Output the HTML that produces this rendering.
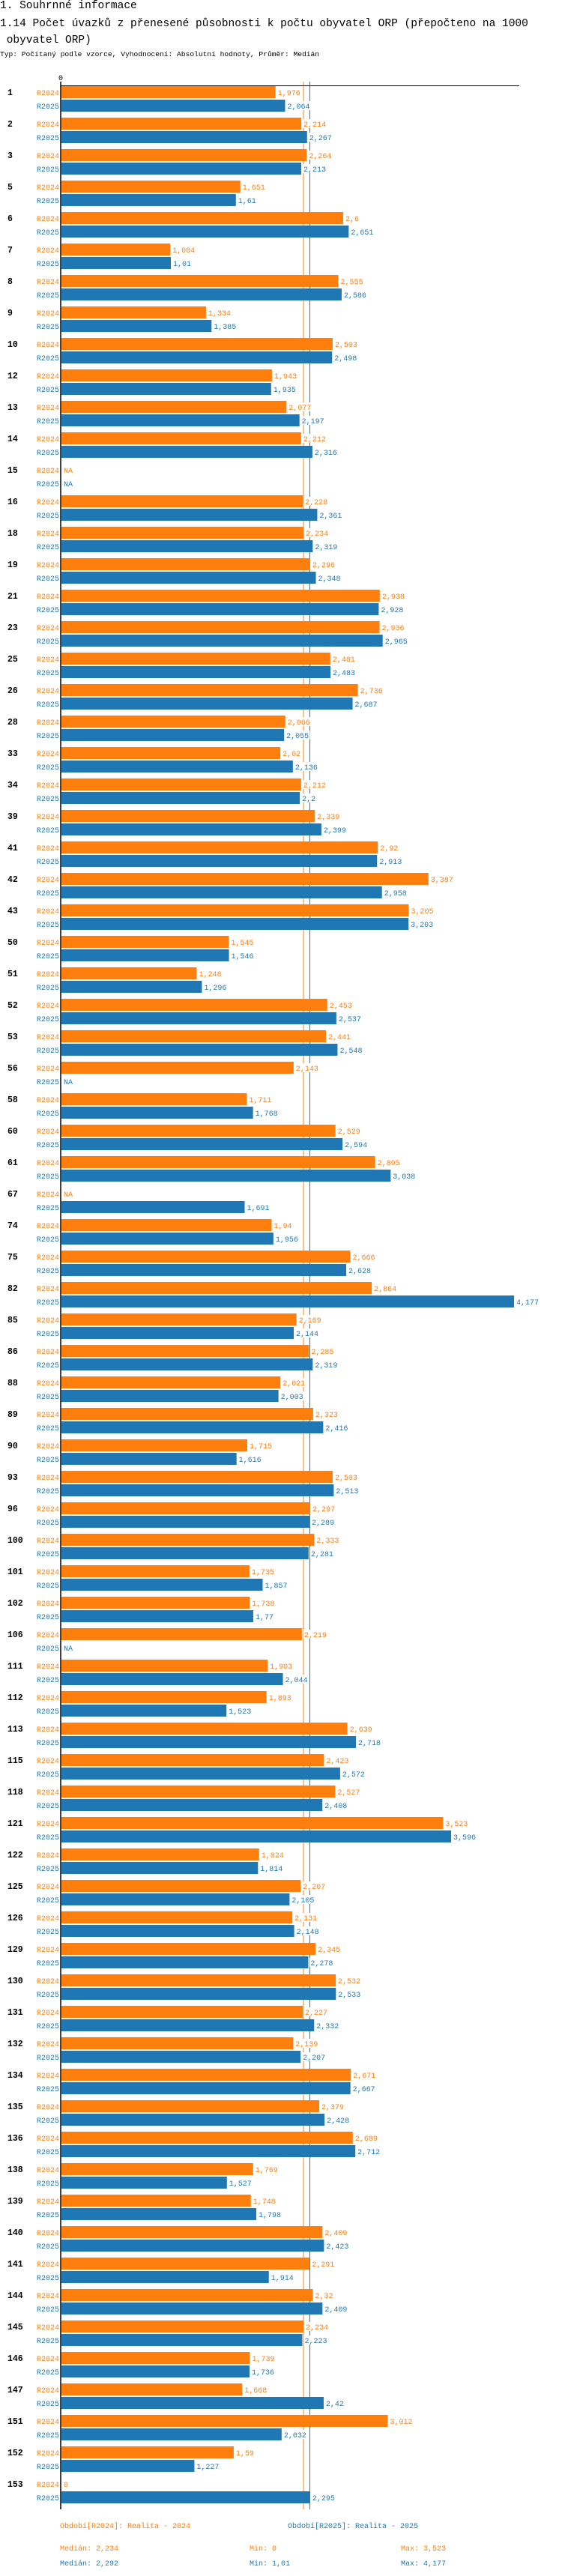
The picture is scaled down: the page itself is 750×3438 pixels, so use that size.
<!DOCTYPE html>
<html><head><meta charset="utf-8">
<style>
html,body{margin:0;padding:0;background:#fff;}
body{width:750px;height:3438px;overflow:hidden;position:relative;font-family:"Liberation Mono",monospace;}
.t{position:absolute;left:0;white-space:pre;color:#000;}
</style></head>
<body>
<div class="t" style="top:0px;font-size:14.5px;">1. Souhrnné informace</div>
<div class="t" style="top:21px;font-size:14.5px;line-height:22px;">1.14 Počet úvazků z přenesené působnosti k počtu obyvatel ORP (přepočteno na 1000
 obyvatel ORP)</div>
<div class="t" style="top:67px;font-size:9.6px;">Typ: Počítaný podle vzorce, Vyhodnocení: Absolutní hodnoty, Průměr: Medián</div>
<svg id="chart" width="750" height="3438" style="position:absolute;left:0;top:0" xmlns="http://www.w3.org/2000/svg" font-family="Liberation Mono, monospace"></svg>
<script>
const categories=["1","2","3","5","6","7","8","9","10","12","13","14","15","16","18","19","21","23","25","26","28","33","34","39","41","42","43","50","51","52","53","56","58","60","61","67","74","75","82","85","86","88","89","90","93","96","100","101","102","106","111","112","113","115","118","121","122","125","126","129","130","131","132","134","135","136","138","139","140","141","144","145","146","147","151","152","153"];
const values2024=[1.976,2.214,2.264,1.651,2.6,1.004,2.555,1.334,2.503,1.943,2.077,2.212,null,2.228,2.234,2.296,2.938,2.936,2.481,2.736,2.066,2.02,2.212,2.339,2.92,3.387,3.205,1.545,1.248,2.453,2.441,2.143,1.711,2.529,2.895,null,1.94,2.666,2.864,2.169,2.285,2.021,2.323,1.715,2.503,2.297,2.333,1.735,1.738,2.219,1.903,1.893,2.639,2.423,2.527,3.523,1.824,2.207,2.131,2.345,2.532,2.227,2.139,2.671,2.379,2.689,1.769,1.748,2.409,2.291,2.32,2.234,1.739,1.668,3.012,1.59,0];
const values2025=[2.064,2.267,2.213,1.61,2.651,1.01,2.586,1.385,2.498,1.935,2.197,2.316,null,2.361,2.319,2.348,2.928,2.965,2.483,2.687,2.055,2.136,2.2,2.399,2.913,2.958,3.203,1.546,1.296,2.537,2.548,null,1.768,2.594,3.038,1.691,1.956,2.628,4.177,2.144,2.319,2.003,2.416,1.616,2.513,2.289,2.281,1.857,1.77,null,2.044,1.523,2.718,2.572,2.408,3.596,1.814,2.105,2.148,2.278,2.533,2.332,2.207,2.667,2.428,2.712,1.527,1.798,2.423,1.914,2.409,2.223,1.736,2.42,2.032,1.227,2.295];
const seriesNames=["R2024","R2025"];
const medians=[2.234,2.292];
const mins=[0,1.01];
const maxs=[3.523,4.177];
const colors=["#ff7f0e","#1f77b4"];
const NS="http://www.w3.org/2000/svg";
const svg=document.getElementById("chart");
const X0=82, SCALE=144.6, Y0=115, PITCH=42, BH=16;
function xs(v){return X0+v*SCALE;}
function fmt(v){return String(v).replace(".",",");}
function mk(tag,attrs,parent){const e=document.createElementNS(NS,tag);for(const k in attrs)e.setAttribute(k,attrs[k]);(parent||svg).appendChild(e);return e;}
const lastY=Y0+PITCH*(categories.length-1)+2*BH+2+8;
// median lines
const mlines=mk("g",{});


medians.forEach((m,s)=>{const l=mk("line",{x1:xs(m),x2:xs(m),y1:109,y2:lastY,stroke:colors[s],"stroke-width":1},mlines);

});
// axes
const ax=mk("line",{x1:X0-1,x2:X0-1,y1:109,y2:lastY,stroke:"#000","stroke-width":1.5});


const tx=mk("line",{x1:X0-1,x2:693,y1:114.5,y2:114.5,stroke:"#000","stroke-width":1});


const z=mk("text",{x:X0-1,y:107,"font-size":10,"text-anchor":"middle",fill:"#000"});
z.textContent="0";


const data=[values2024,values2025];
categories.forEach((c,i)=>{
  const g=mk("g",{});
  
  
  const gy=Y0+PITCH*i;
  const cl=mk("text",{x:10,y:gy+12,"font-size":11.5,"font-weight":"bold",fill:"#000"},g);
  cl.textContent=c;
  
  
  [0,1].forEach(s=>{
    const y=gy+s*(BH+2);
    const v=data[s][i];
    const sl=mk("text",{x:X0-3,y:y+12,"font-size":10,"text-anchor":"end",fill:colors[s]},g);
    sl.textContent=seriesNames[s];
    
    
    let endX=X0;
    if(v!==null && v>0){
      const r=mk("rect",{x:X0,y:y,width:xs(v)-X0,height:BH,fill:colors[s]},g);
      
      
      endX=xs(v);
    }
    const txt=v===null?"NA":fmt(v);
    const w=txt.length*6.1+2;
    const bg=mk("rect",{x:endX+2,y:y+2,width:w,height:12,fill:"#fff"},g);
    
    
    const vl=mk("text",{x:endX+3,y:y+12,"font-size":10,fill:colors[s]},g);
    vl.textContent=txt;
    
    
  });
});
// legend
const lg=mk("g",{});


const legTexts=["Období[R2024]: Realita - 2024","Období[R2025]: Realita - 2025"];
[80,384].forEach((x,s)=>{const t=mk("text",{x:x,y:3374,"font-size":10,fill:colors[s]},lg);t.textContent=legTexts[s];

});
[0,1].forEach(s=>{
  const y=3404+s*20;
  const items=[["Medián: "+fmt(medians[s]),80],["Min: "+fmt(mins[s]),333],["Max: "+fmt(maxs[s]),535]];
  items.forEach(([t,x])=>{const e=mk("text",{x:x,y:y,"font-size":10,fill:colors[s]},lg);e.textContent=t;
  
  });
});
</script>
</body></html>
